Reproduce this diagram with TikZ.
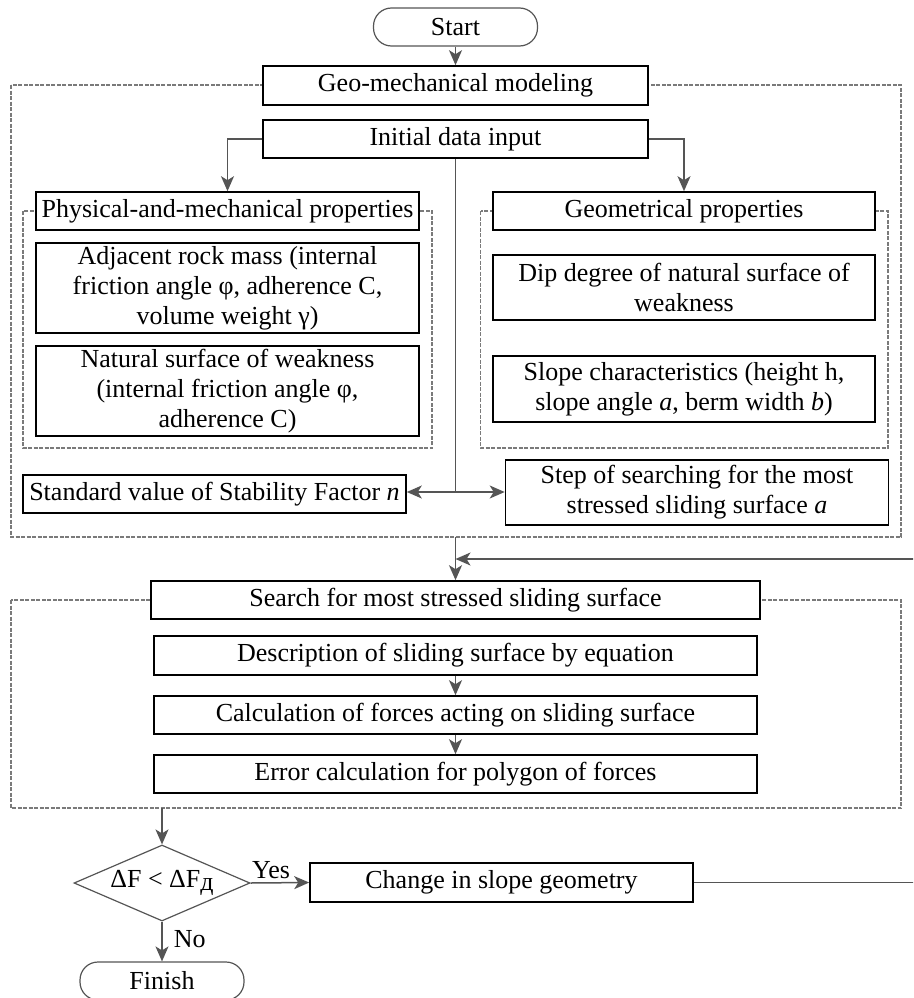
\documentclass[tikz,border=0pt]{standalone}
\usepackage{fontspec}
\setmainfont{Liberation Serif}
\usetikzlibrary{arrows.meta, shapes.geometric}
\definecolor{lngray}{HTML}{555555}
\definecolor{frgray}{HTML}{7A7A7A}

\begin{document}
\begin{tikzpicture}[
  x=1pt, y=-1pt,
  every node/.style={font=\fontsize{26}{30}\selectfont},
  box/.style={draw=black, line width=1.6pt, fill=white, align=center,
    inner xsep=0pt, inner ysep=2pt, minimum width=#1},
  box/.default=383pt,
  term/.style={draw=lngray, line width=1.2pt, fill=white, rounded corners=18pt,
    minimum width=164pt, minimum height=38pt},
  cond/.style={diamond, draw=lngray, line width=1.2pt, fill=white, inner sep=0pt,
    shape aspect=2.3, minimum width=176pt, minimum height=76pt},
  frame/.style={frgray, line width=1.2pt, dash pattern=on 4pt off 1.5pt},
  arr/.style={lngray, line width=1.5pt, -{Stealth[length=15pt, width=13pt, inset=4pt]}},
  link/.style={lngray, line width=1.5pt},
  tag/.style={text=black, inner sep=3pt},
]
\clip (0,0) rectangle (913,998);

% ===== Dashed frames =====
\draw[frame] (11,85) rectangle (901,537);
\draw[frame] (23,211) rectangle (432,448);
\draw[frame] (480.5,211) rectangle (888,448);
\draw[frame] (11,600) rectangle (901,808);

% ===== Geo-mechanical modeling block =====
\node[term] (start) at (455.5,27) {Start};
\node[box=385pt, minimum height=39pt] (geo) at (455.5,85.5) {Geo-mechanical modeling};
\node[box=385pt, minimum height=38pt] (init) at (455.5,139) {Initial data input};

% Physical-and-mechanical properties
\node[box, minimum height=38pt] (phys) at (227.5,211) {Physical-and-mechanical properties};
\node[box, minimum height=90pt] (adj) at (227.5,288)
  {Adjacent rock mass (internal\\friction angle φ, adherence C,\\volume weight γ)};
\node[box, minimum height=90pt] (nat) at (227.5,391)
  {Natural surface of weakness\\(internal friction angle φ,\\adherence C)};

% Geometrical properties
\node[box=382pt, minimum height=38pt] (geom) at (684,211) {Geometrical properties};
\node[box=382pt, minimum height=65pt] (dip) at (684,287.5)
  {Dip degree of natural surface of\\weakness};
\node[box=382pt, minimum height=66pt] (slope) at (684,389)
  {Slope characteristics (height h,\\slope angle \textit{a}, berm width \textit{b})};

% Standard value and search step
\node[box, minimum height=38pt] (std) at (214.5,494)
  {Standard value of Stability Factor \textit{n}};
\node[box, minimum height=65pt] (stepsrch) at (697,492.5)
  {Step of searching for the most\\stressed sliding surface \textit{a}};

% ===== Search for most stressed sliding surface =====
\node[box=609pt, minimum height=38pt] (search) at (455.5,600) {Search for most stressed sliding surface};
\node[box=603pt, minimum height=39pt] (descr) at (455.5,655.5) {Description of sliding surface by equation};
\node[box=603pt, minimum height=38pt] (calc) at (455.5,715) {Calculation of forces acting on sliding surface};
\node[box=603pt, minimum height=38pt] (err) at (455.5,774) {Error calculation for polygon of forces};

% ===== Check and loop =====
\node[cond] (check) at (162,883) {ΔF < ΔF\raisebox{-0.12em}{д}};
\node[box, minimum height=39pt] (change) at (501.5,882.5) {Change in slope geometry};
\node[term] (finish) at (162,981) {Finish};

\coordinate (hub) at (455.5,492);
\coordinate (frameout) at (455.5,537);
\coordinate (loopin) at (455.5,559);
\coordinate (searchout) at (162,808);

% ===== Connectors =====
\draw[arr] (start) -- (geo);
\draw[arr] (init.west) -| (phys.north);
\draw[arr] (init.east) -| (geom.north);
\draw[link] (init.south) -- (hub);
\draw[arr] (hub) -- (hub -| std.east);
\draw[arr] (hub) -- (hub -| stepsrch.west);
\draw[arr] (frameout) -- (search.north);
\draw[arr] (descr) -- (calc);
\draw[arr] (calc) -- (err);
\draw[arr] (searchout) -- (check.north);
\draw[arr] (check.east) -- node[tag, pos=0.35, above] {Yes} (change.west);
\draw[arr] (change.east) -- ++(430,0) |- (loopin);
\draw[arr] (check.south) -- node[tag, pos=0.45, right, xshift=8pt] {No} (finish.north);

\end{tikzpicture}
\end{document}
